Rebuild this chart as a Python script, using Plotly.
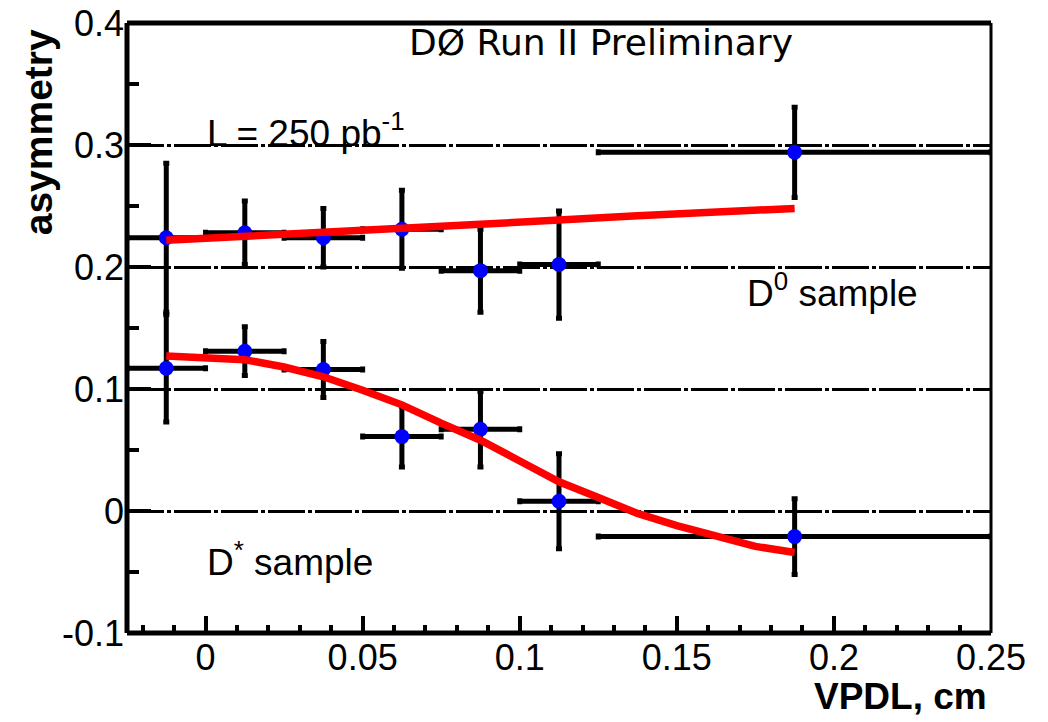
import plotly.graph_objects as go

# ---- data ----
vpdl_centers = [-0.0125, 0.0125, 0.0375, 0.0625, 0.0875, 0.1125, 0.1875]
vpdl_halfwidth = [0.0125, 0.0125, 0.0125, 0.0125, 0.0125, 0.0125, 0.0625]

d0_asym = [0.224, 0.228, 0.224, 0.231, 0.197, 0.202, 0.294]
d0_err = [0.061, 0.026, 0.024, 0.032, 0.034, 0.044, 0.037]

dstar_asym = [0.117, 0.131, 0.116, 0.061, 0.067, 0.008, -0.021]
dstar_err = [0.044, 0.020, 0.023, 0.025, 0.031, 0.039, 0.031]

d0_fit_x = [-0.0125, 0.0375, 0.0875, 0.1375, 0.1875]
d0_fit_y = [0.222, 0.228, 0.235, 0.242, 0.248]

dstar_fit_x = [-0.0125, 0.0, 0.0125, 0.025, 0.0375, 0.05, 0.0625, 0.075, 0.0875,
               0.1, 0.1125, 0.125, 0.1375, 0.15, 0.1625, 0.175, 0.1875]
dstar_fit_y = [0.127, 0.126, 0.124, 0.118, 0.110, 0.099, 0.087, 0.072, 0.058,
               0.041, 0.024, 0.011, -0.002, -0.012, -0.021, -0.029, -0.034]

x_tickvals = [0, 0.05, 0.1, 0.15, 0.2, 0.25]
x_ticktext = ["0", "0.05", "0.1", "0.15", "0.2", "0.25"]
y_tickvals = [-0.1, 0, 0.1, 0.2, 0.3, 0.4]
y_ticktext = ["-0.1", "0", "0.1", "0.2", "0.3", "0.4"]

FONT = "Liberation Sans, Arial, Helvetica, sans-serif"

fig = go.Figure()

for yvals, errs in [(d0_asym, d0_err), (dstar_asym, dstar_err)]:
    fig.add_trace(go.Scatter(
        x=vpdl_centers, y=yvals, mode="markers",
        marker=dict(color="#0000ff", size=15, symbol="circle"),
        error_y=dict(type="data", array=errs, color="black", thickness=5, width=3),
        error_x=dict(type="data", array=vpdl_halfwidth, color="black", thickness=5, width=3),
        showlegend=False, hoverinfo="skip",
    ))

for fx, fy in [(d0_fit_x, d0_fit_y), (dstar_fit_x, dstar_fit_y)]:
    fig.add_trace(go.Scatter(
        x=fx, y=fy, mode="lines",
        line=dict(color="#ff0000", width=7.5),
        showlegend=False, hoverinfo="skip",
    ))

fig.update_layout(
    width=1048, height=722,
    margin=dict(l=127, r=57, t=23, b=89, autoexpand=False),
    paper_bgcolor="white", plot_bgcolor="white",
    font=dict(family=FONT, color="black", size=36),
)

fig.update_xaxes(
    range=[-0.025, 0.25], showgrid=False, zeroline=False, showline=False,
    automargin=False,
    tickmode="array", tickvals=x_tickvals, ticktext=x_ticktext,
    ticks="inside", ticklen=17, tickwidth=4, tickcolor="black",
    minor=dict(dtick=0.01, tick0=0, ticks="inside", ticklen=8, tickwidth=4, tickcolor="black"),
    tickfont=dict(size=36, family=FONT),
    ticklabelstandoff=0,
)
fig.update_yaxes(
    range=[-0.1, 0.4], zeroline=False, showline=False,
    automargin=False,
    showgrid=True, gridcolor="black", gridwidth=2.5, griddash="37px,3px,4px,3px",
    tickmode="array", tickvals=y_tickvals, ticktext=y_ticktext,
    ticks="inside", ticklen=24, tickwidth=4, tickcolor="black",
    minor=dict(dtick=0.05, tick0=0, ticks="inside", ticklen=12, tickwidth=4,
               tickcolor="black", showgrid=False),
    tickfont=dict(size=36, family=FONT),
    ticklabelstandoff=2,
)

# frame (thick left/bottom/top, thinner right)
frame = [
    dict(x0=0, x1=0, y0=0, y1=1, w=5),
    dict(x0=0, x1=1, y0=0, y1=0, w=5),
    dict(x0=0, x1=1, y0=1, y1=1, w=5),
    dict(x0=1, x1=1, y0=0, y1=1, w=3),
]
for f in frame:
    fig.add_shape(type="line", xref="paper", yref="paper",
                  x0=f["x0"], x1=f["x1"], y0=f["y0"], y1=f["y1"],
                  line=dict(color="black", width=f["w"]), layer="above")

ann = [
    dict(text="DØ Run II Preliminary", x=0.1258, y=0.384, xanchor="center",
         font=dict(family="DejaVu Sans, sans-serif", size=36)),
    dict(text="L = 250 pb<sup>-1</sup>", x=-0.0003, y=0.312, xanchor="left",
         font=dict(family=FONT, size=37)),
    dict(text="D<sup>0</sup> sample", x=0.1717, y=0.181, xanchor="left",
         font=dict(family=FONT, size=37)),
    dict(text="D<sup>*</sup> sample", x=-0.0003, y=-0.040, xanchor="left",
         font=dict(family=FONT, size=37)),
]
for a in ann:
    fig.add_annotation(text=a["text"], x=a["x"], y=a["y"], xref="x", yref="y",
                       xanchor=a["xanchor"], yanchor="middle", showarrow=False,
                       font=dict(color="black", **a["font"]))

# axis titles
fig.add_annotation(text="<b>asymmetry</b>", xref="paper", yref="paper",
                   x=-0.103, y=0.993, xanchor="center", yanchor="top",
                   textangle=-90, showarrow=False,
                   font=dict(family=FONT, size=39, color="black"))
fig.add_annotation(text="<b>VPDL, cm</b>", xref="paper", yref="paper",
                   x=0.998, y=-0.068, xanchor="right", yanchor="top",
                   showarrow=False,
                   font=dict(family=FONT, size=37, color="black"))

fig.write_html("out.html")
